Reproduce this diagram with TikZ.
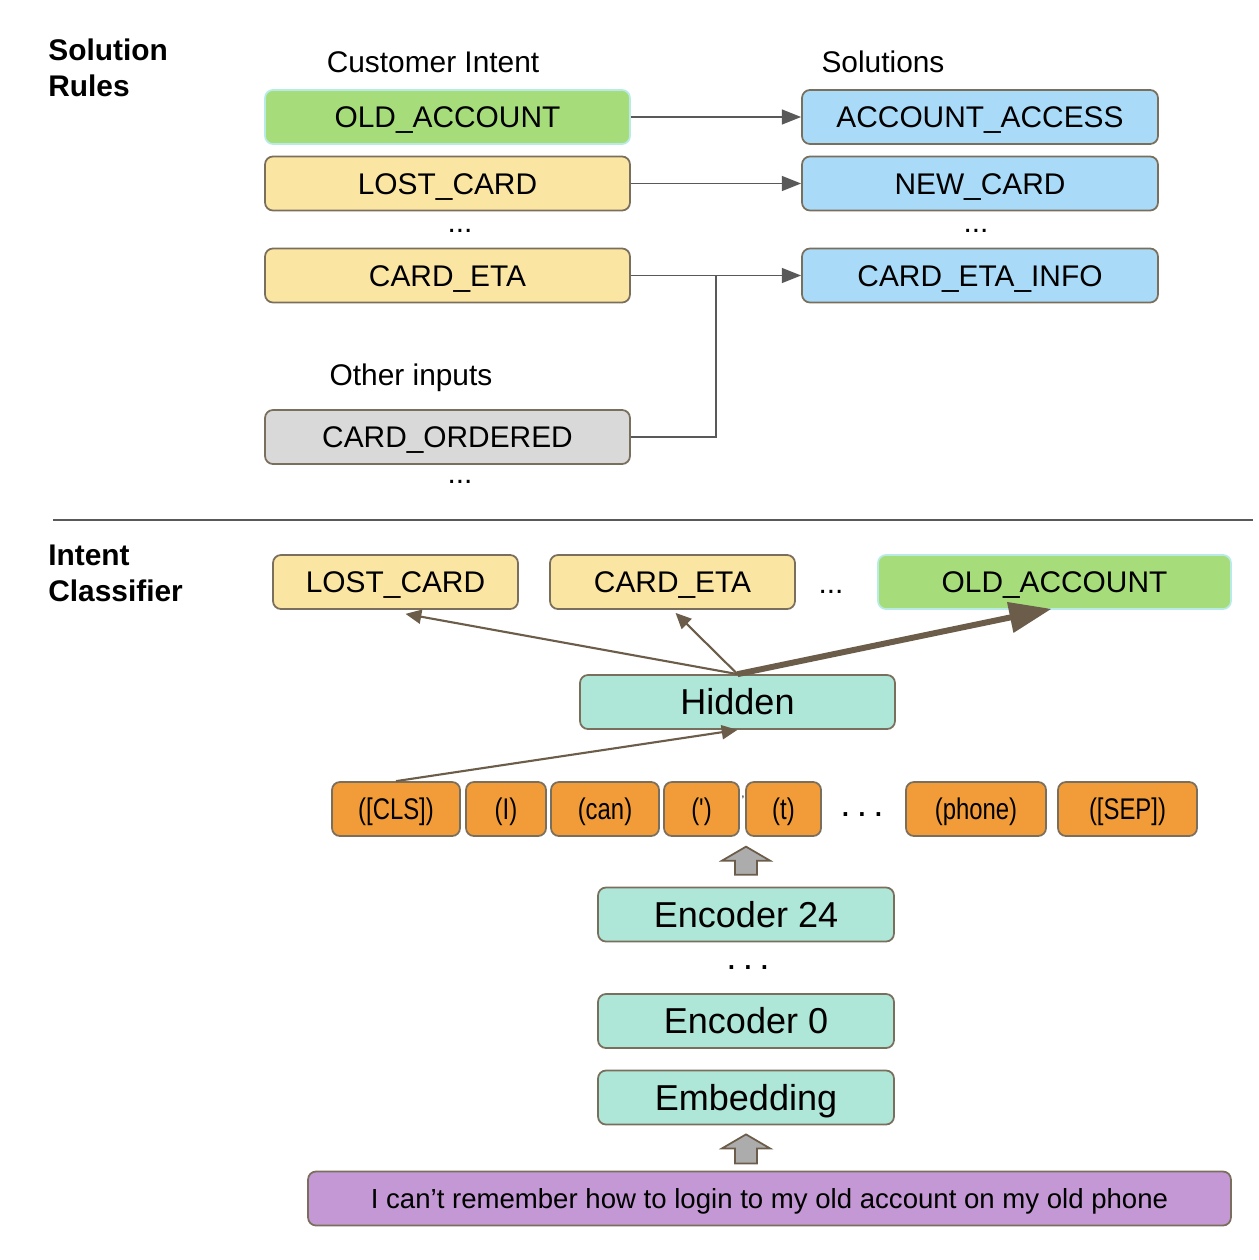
\documentclass[tikz,border=0pt]{standalone}
\usepackage{fontspec}
\setmainfont{Liberation Sans}
\newfontfamily\tokfont[FakeStretch=0.8]{Liberation Sans}
\usepackage{xcolor}
\usetikzlibrary{arrows.meta, calc}

\definecolor{edgebrown}{HTML}{7A6E5C}
\definecolor{arrowbrown}{HTML}{6B5D4A}
\definecolor{arrowgray}{HTML}{595959}
\definecolor{intentgreen}{HTML}{A6DC7A}
\definecolor{greenedge}{HTML}{B8EBE6}
\definecolor{intentyellow}{HTML}{FBE5A2}
\definecolor{solblue}{HTML}{A9DBF8}
\definecolor{inputgray}{HTML}{D9D9D9}
\definecolor{layermint}{HTML}{AEE6D8}
\definecolor{tokorange}{HTML}{F19C38}
\definecolor{sentpurple}{HTML}{C498D4}

\begin{document}
\begin{tikzpicture}[
    x=0.02cm, y=-0.02cm,
    box/.style={draw=edgebrown, line width=1pt, rounded corners=4.5pt, align=center, inner sep=0pt, minimum height=1.08cm, text height=12.2pt, text depth=0pt, font=\fontsize{17}{20}\selectfont},
    intent/.style={box, fill=intentyellow},
    hitintent/.style={box, fill=intentgreen, draw=greenedge},
    solution/.style={box, fill=solblue, minimum width=7.12cm},
    layer/.style={box, fill=layermint, minimum width=5.92cm, text height=14.7pt, font=\fontsize{20.5}{24}\selectfont},
    token/.style={box, fill=tokorange, font=\tokfont\fontsize{17}{20}\selectfont},
    label/.style={font=\fontsize{17}{20}\selectfont, inner sep=0pt},
    head/.style={font=\fontsize{17}{20.4}\selectfont\bfseries, align=left, inner sep=0pt},
    rule/.style={-{Triangle[length=11pt, width=8.5pt]}, draw=arrowgray, fill=arrowgray, line width=0.9pt},
    score/.style={-{Triangle[length=9pt, width=8pt]}, draw=arrowbrown, fill=arrowbrown, line width=1.2pt},
    blockarrow/.style={draw=arrowbrown, fill=gray!65, line width=1pt, line join=miter}
]
\useasboundingbox (0,0) rectangle (1258,1260);
% Solution rules
\node[head, anchor=north west] (solrules) at (48,39) {Solution\\Rules};
\node[label] (intenttitle) at (433,62) {Customer Intent};
\node[label] (soltitle) at (883,62) {Solutions};
\node[hitintent, minimum width=7.3cm] (old1) at (447.5,117) {OLD\_ACCOUNT};
\node[intent, minimum width=7.3cm] (lost1) at (447.5,183.5) {LOST\_CARD};
\node[label] (dots1) at (460,231) {...};
\node[intent, minimum width=7.3cm] (eta1) at (447.5,275.5) {CARD\_ETA};
\node[label] (othertitle) at (411,378) {Other inputs};
\node[box, fill=inputgray, minimum width=7.3cm] (ordered) at (447.5,437) {CARD\_ORDERED};
\node[label] (dots2) at (460,482) {...};
\node[solution] (access) at (980,117) {ACCOUNT\_ACCESS};
\node[solution] (newcard) at (980,183.5) {NEW\_CARD};
\node[label] (dots3) at (976,231) {...};
\node[solution] (etainfo) at (980,275.5) {CARD\_ETA\_INFO};
\coordinate (join) at (716,275.5);
% Rule arrows
\draw[rule] (old1) -- (access);
\draw[rule] (lost1) -- (newcard);
\draw[rule] (eta1) -- (etainfo);
\draw[draw=arrowgray, line width=0.9pt] (ordered.east) -| (join);
% Separator
\draw[draw=arrowgray, line width=1pt] (53,520) -- (1253,520);
% Intent classifier
\node[head, anchor=north west] (classifier) at (48,545) {Intent\\Classifier};
\node[intent, minimum width=4.9cm] (lost2) at (395.5,582) {LOST\_CARD};
\node[intent, minimum width=4.9cm] (eta2) at (672.5,582) {CARD\_ETA};
\node[label] (dots4) at (831,592) {...};
\node[hitintent, minimum width=7.06cm] (old2) at (1054.5,582) {OLD\_ACCOUNT};
\node[layer, minimum width=6.3cm] (hid) at (737.5,702) {Hidden};
% Tokens
\node[token, minimum width=2.56cm] (cls) at (396,809) {([CLS])};
\node[token, minimum width=1.6cm] (tokI) at (506,809) {(I)};
\node[token, minimum width=2.16cm] (tokcan) at (605,809) {(can)};
\node[token, minimum width=1.5cm] (tokapos) at (701.5,809) {(')};
\node[token, minimum width=1.5cm] (tokt) at (783.5,809) {(t)};
\node[label, font=\fontsize{7}{8}\selectfont] (stray) at (743,800) {'};
\node[label, font=\fontsize{21}{24}\selectfont] (dots5) at (862,815) {.\,.\,.};
\node[token, minimum width=2.8cm] (phone) at (976,809) {(phone)};
\node[token, minimum width=2.78cm] (sep) at (1127.5,809) {([SEP])};
% Encoder stack
\node[layer] (enc24) at (746,914.5) {Encoder 24};
\node[label, font=\fontsize{21}{24}\selectfont] (dots6) at (748,968) {.\,.\,.};
\node[layer] (enc0) at (746,1021) {Encoder 0};
\node[layer] (embed) at (746,1097.5) {Embedding};
\node[box, fill=sentpurple, minimum width=18.46cm, text height=11.2pt, font=\fontsize{15.7}{19}\selectfont] (sentence) at (769.5,1198.5) {I can’t remember how to login to my old account on my old phone};
% Score arrows
\draw[score] (hid.north) -- ($(lost2.south)+(10,4)$);
\draw[score] (hid.north) -- ($(eta2.south)+(3,3)$);
\draw[-{Triangle[length=24pt, width=17pt]}, draw=arrowbrown, fill=arrowbrown, line width=3.4pt] (hid.north) -- ($(old2.south)+(-3,-1)$);
\draw[score] (cls.north) -- (hid.south);
% Block arrows
\draw[blockarrow, shift={(enc24.north)}] (-24,-26) -- (0,-40) -- (24,-26) -- (11,-26) -- (11,-12) -- (-11,-12) -- (-11,-26) -- cycle;
\draw[blockarrow, shift={(embed.south)}] (-24,23) -- (0,9) -- (24,23) -- (11,23) -- (11,38) -- (-11,38) -- (-11,23) -- cycle;
\end{tikzpicture}
\end{document}
